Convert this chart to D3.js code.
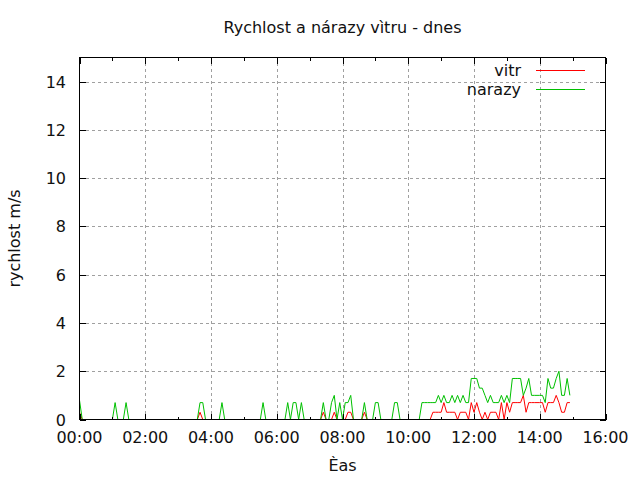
<!DOCTYPE html>
<html>
<head>
<meta charset="utf-8">
<script src="https://cdn.jsdelivr.net/npm/d3@7"></script>
<style>
  body { margin: 0; background: #fff; }
  text { font-family: "DejaVu Sans", sans-serif; font-size: 16px; fill: #111; }
</style>
</head>
<body>
<div id="vis"></div>
<script>
const width = 640;
const height = 480;

// samples every 5 minutes from 00:00, one row per hour
const stepMinutes = 5;
const vitr = [
  0.3, 0, 0, 0, 0, 0, 0, 0, 0, 0, 0, 0,
  0, 0, 0, 0, 0, 0, 0, 0, 0, 0, 0, 0,
  0, 0, 0, 0, 0, 0, 0, 0, 0, 0, 0, 0,
  0, 0, 0, 0, 0, 0, 0, 0, 0.3, 0, 0, 0,
  0, 0, 0, 0, 0, 0, 0, 0, 0, 0, 0, 0,
  0, 0, 0, 0, 0, 0, 0, 0, 0, 0, 0, 0,
  0, 0, 0, 0, 0, 0, 0, 0, 0, 0, 0, 0,
  0, 0, 0, 0, 0, 0.3, 0, 0, 0, 0.3, 0, 0,
  0, 0, 0.3, 0.3, 0, 0, 0, 0, 0.3, 0, 0, 0,
  0, 0, 0, 0, 0, 0, 0, 0, 0, 0, 0, 0,
  0, 0, 0, 0, 0, 0, 0, 0, 0, 0.3, 0.3, 0.3,
  0.3, 0.7, 0.3, 0.3, 0.3, 0.3, 0, 0.3, 0.3, 0.3, 0, 0.7,
  0.3, 0.7, 0.3, 0, 0.3, 0, 0.3, 0.3, 0.3, 0, 0.7, 0,
  0.7, 0.3, 0.7, 0.7, 0.7, 0.7, 1.0, 0.3, 0.7, 0.7, 0.7, 0.7,
  0.7, 0.7, 0.3, 0.7, 0.7, 0.7, 1.0, 0.7, 0.3, 0.3, 0.7, 0.7
];
const narazy = [
  0.8, 0, 0, 0, 0, 0, 0, 0, 0, 0, 0, 0,
  0, 0.7, 0, 0, 0, 0.7, 0, 0, 0, 0, 0, 0,
  0, 0, 0, 0, 0, 0, 0, 0, 0, 0, 0, 0,
  0, 0, 0, 0, 0, 0, 0, 0, 0.7, 0.7, 0, 0,
  0, 0, 0, 0, 0.7, 0, 0, 0, 0, 0, 0, 0,
  0, 0, 0, 0, 0, 0, 0, 0.7, 0, 0, 0, 0,
  0, 0, 0, 0, 0.7, 0, 0.7, 0.7, 0, 0.7, 0, 0,
  0, 0, 0, 0, 0, 0.7, 0, 0, 0.7, 1.0, 0, 0.7,
  0, 0.7, 0.7, 1.0, 0, 0, 0, 0, 0.7, 0, 0, 0,
  0.7, 0.7, 0, 0, 0, 0, 0, 0.7, 0.7, 0, 0, 0,
  0, 0, 0, 0, 0, 0.7, 0.7, 0.7, 0.7, 0.7, 0.7, 1.0,
  0.7, 1.0, 0.7, 0.7, 1.0, 0.7, 1.0, 0.7, 1.0, 0.7, 0.7, 1.7,
  1.7, 1.7, 1.3, 1.3, 1.0, 0.7, 1.0, 0.7, 0.7, 0.7, 1.0, 0.7,
  1.0, 0.7, 1.7, 1.7, 1.7, 1.7, 1.0, 1.3, 1.7, 1.0, 1.0, 1.0,
  1.0, 1.0, 0.7, 1.7, 1.3, 1.3, 1.7, 2.0, 1.0, 1.0, 1.7, 1.0
];
const seriesNames = ['vitr', 'narazy'];
const seriesColors = ['#ff0000', '#00c000'];
const xTickLabels = ['00:00', '02:00', '04:00', '06:00', '08:00', '10:00', '12:00', '14:00', '16:00'];
const yTicks = [0, 2, 4, 6, 8, 10, 12, 14];

const plot = { left: 79.5, right: 605.5, top: 57.5, bottom: 419.5 };

const svg = d3.select('#vis').append('svg')
  .attr('width', width)
  .attr('height', height);

const x = d3.scaleLinear()
  .domain([0, 16 * 60])
  .range([plot.left, plot.right]);
const y = d3.scaleLinear()
  .domain([0, 15])
  .range([plot.bottom, plot.top]);

const majorX = xTickLabels.map((d, i) => i * 120);
const minorX = d3.range(60, 16 * 60, 120);

// grid
const grid = svg.append('g')
  .attr('stroke', '#a0a0a0')
  .attr('stroke-dasharray', '3,3')
  .attr('shape-rendering', 'crispEdges');
grid.selectAll('.gx')
  .data(majorX.slice(1, -1))
  .join('line')
  .attr('x1', d => Math.round(x(d)) + 0.5)
  .attr('x2', d => Math.round(x(d)) + 0.5)
  .attr('y1', plot.bottom)
  .attr('y2', plot.top);
grid.selectAll('.gy')
  .data(yTicks.slice(1))
  .join('line')
  .attr('x1', plot.left)
  .attr('x2', plot.right)
  .attr('y1', d => Math.round(y(d)) + 0.5)
  .attr('y2', d => Math.round(y(d)) + 0.5);

// data lines
const line = d3.line()
  .x((d, i) => x(i * stepMinutes))
  .y(d => y(d));
[vitr, narazy].forEach((values, k) => {
  svg.append('path')
    .datum(values)
    .attr('fill', 'none')
    .attr('stroke', seriesColors[k])
    .attr('stroke-width', 1)
    .attr('d', line);
});

// border and ticks
const axes = svg.append('g')
  .attr('stroke', '#000')
  .attr('shape-rendering', 'crispEdges');
axes.append('rect')
  .attr('x', plot.left)
  .attr('y', plot.top)
  .attr('width', plot.right - plot.left)
  .attr('height', plot.bottom - plot.top)
  .attr('fill', 'none');
const ticksX = majorX.map(d => [d, 6]).concat(minorX.map(d => [d, 3]));
ticksX.forEach(([d, len]) => {
  const px = Math.round(x(d)) + 0.5;
  axes.append('line').attr('x1', px).attr('x2', px).attr('y1', plot.bottom).attr('y2', plot.bottom - len);
  axes.append('line').attr('x1', px).attr('x2', px).attr('y1', plot.top).attr('y2', plot.top + len);
});
yTicks.forEach(d => {
  const py = Math.round(y(d)) + 0.5;
  axes.append('line').attr('x1', plot.left).attr('x2', plot.left + 6).attr('y1', py).attr('y2', py);
  axes.append('line').attr('x1', plot.right).attr('x2', plot.right - 6).attr('y1', py).attr('y2', py);
});

// tick labels
svg.append('g').selectAll('text')
  .data(xTickLabels)
  .join('text')
  .attr('x', (d, i) => x(majorX[i]))
  .attr('y', 443)
  .attr('text-anchor', 'middle')
  .text(d => d);
svg.append('g').selectAll('text')
  .data(yTicks)
  .join('text')
  .attr('x', 66)
  .attr('y', d => y(d) + 6)
  .attr('text-anchor', 'end')
  .text(d => d);

// titles
svg.append('text')
  .attr('x', (plot.left + plot.right) / 2)
  .attr('y', 33)
  .attr('text-anchor', 'middle')
  .text('Rychlost a nárazy vìtru - dnes');
svg.append('text')
  .attr('x', (plot.left + plot.right) / 2)
  .attr('y', 471)
  .attr('text-anchor', 'middle')
  .text('Èas');
svg.append('text')
  .attr('transform', `translate(20,${(plot.top + plot.bottom) / 2}) rotate(-90)`)
  .attr('text-anchor', 'middle')
  .text('rychlost m/s');

// legend
seriesNames.forEach((name, k) => {
  const ly = 70.5 + k * 19;
  svg.append('text')
    .attr('x', 521)
    .attr('y', ly + 5)
    .attr('text-anchor', 'end')
    .text(name);
  svg.append('line')
    .attr('x1', 536)
    .attr('x2', 585)
    .attr('y1', ly)
    .attr('y2', ly)
    .attr('stroke', seriesColors[k])
    .attr('shape-rendering', 'crispEdges');
});
</script>
</body>
</html>
